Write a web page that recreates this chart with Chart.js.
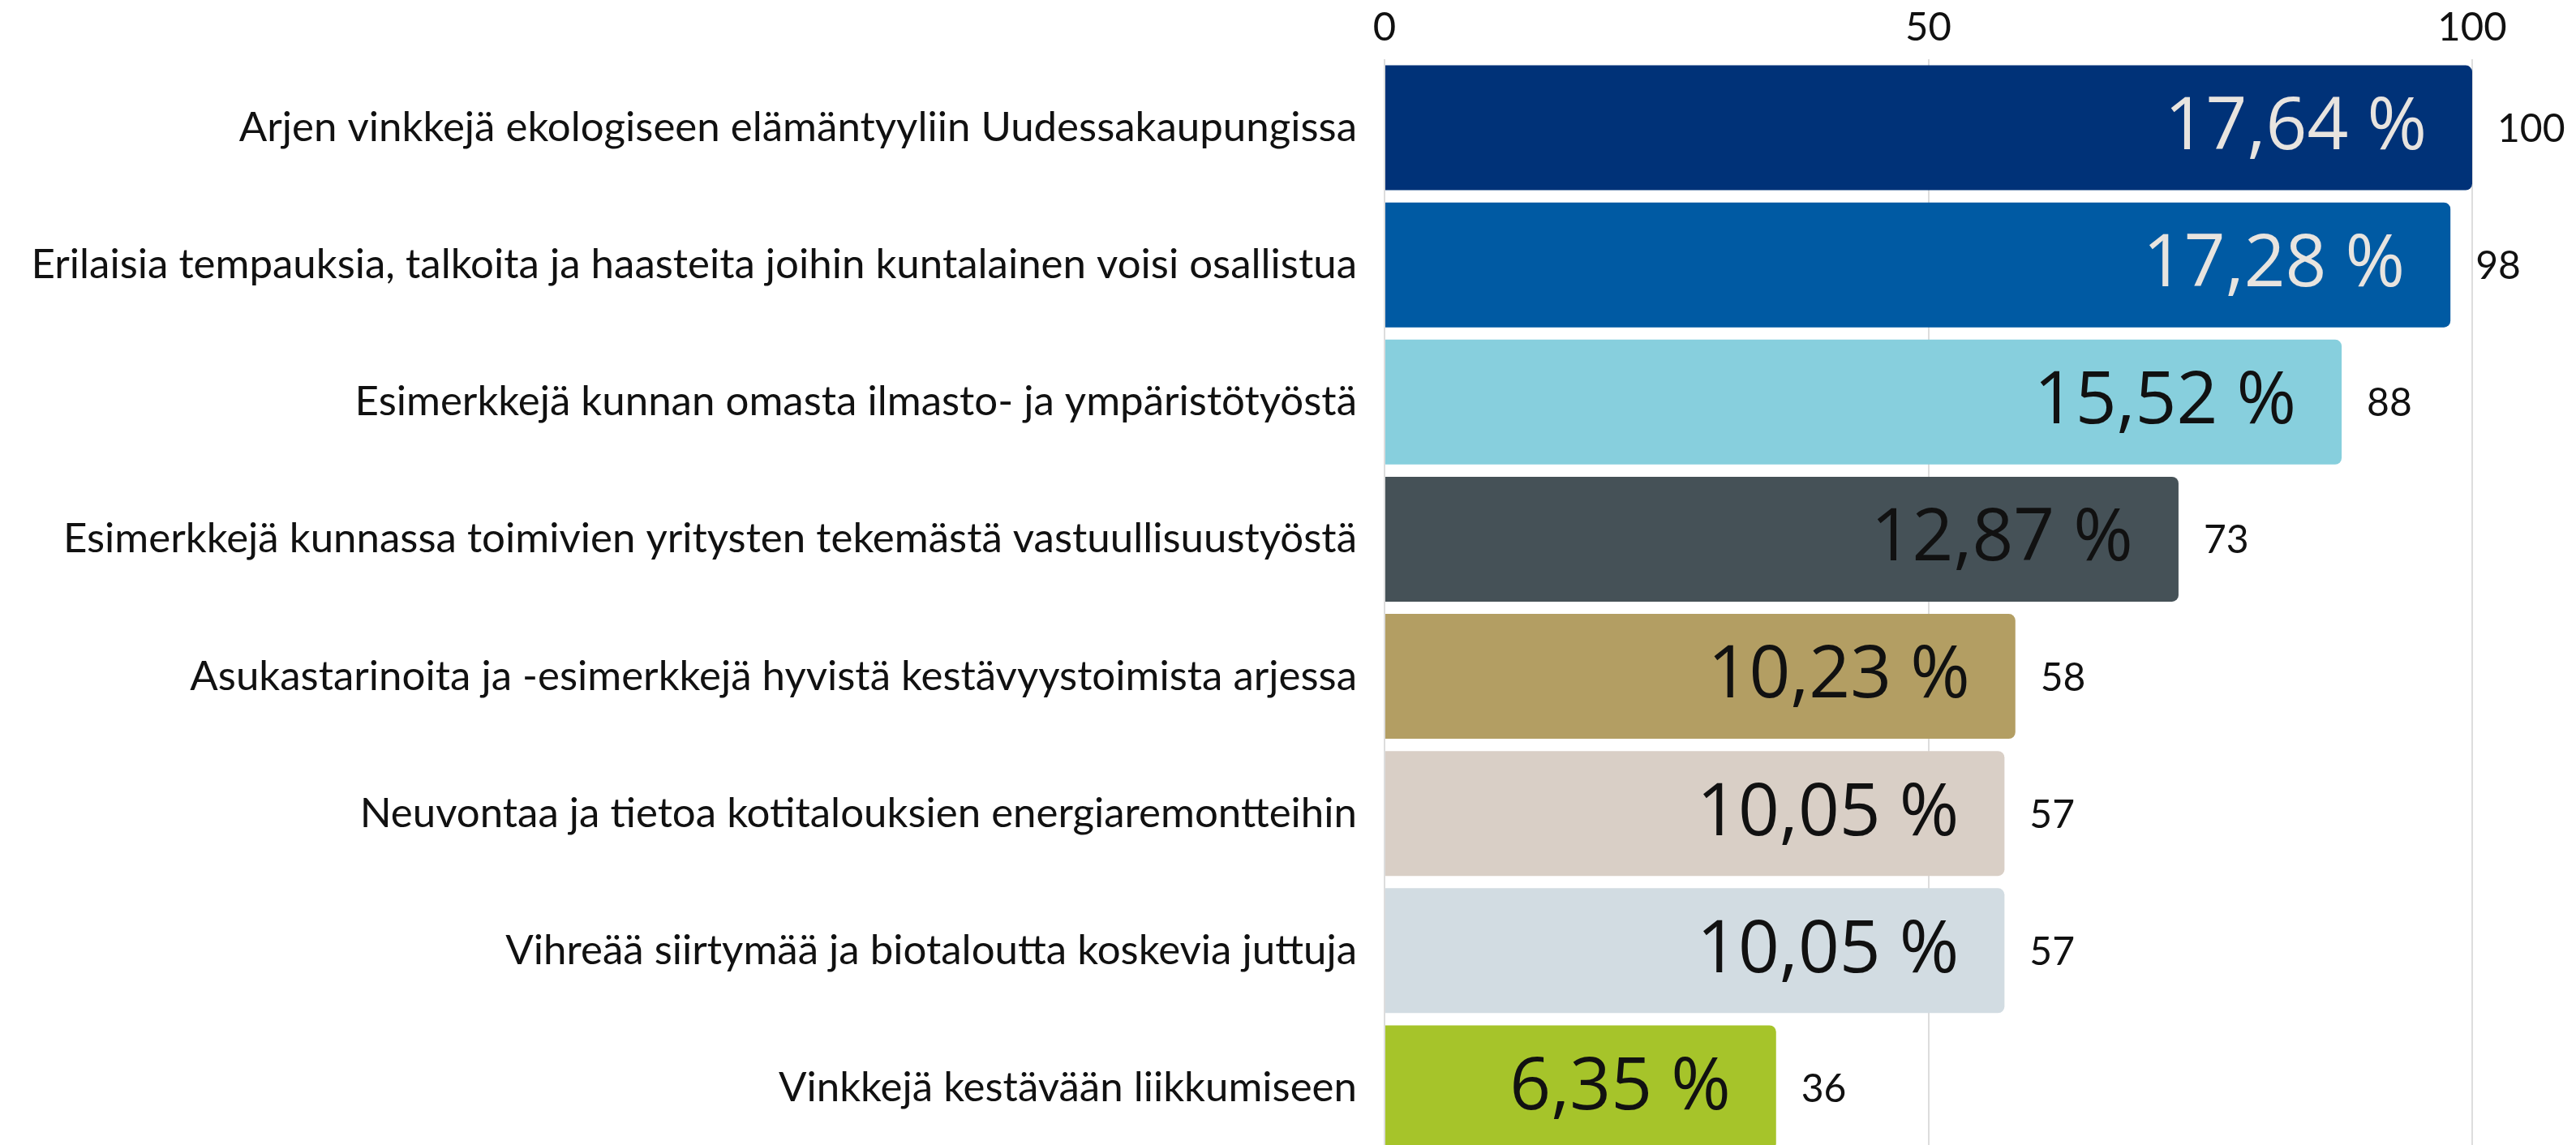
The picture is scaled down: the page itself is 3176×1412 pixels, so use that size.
<!DOCTYPE html>
<html><head><meta charset="utf-8">
<script src="https://cdn.jsdelivr.net/npm/chart.js@4/dist/chart.umd.min.js"></script>
<style>html,body{margin:0;padding:0;overflow:hidden;background:#fff}
canvas{display:block}</style></head>
<body><canvas id="c" width="3176" height="1426" style="width:3176px;height:1426px"></canvas>
<script>
const categories = [
  "Arjen vinkkejä ekologiseen elämäntyyliin Uudessakaupungissa",
  "Erilaisia tempauksia, talkoita ja haasteita joihin kuntalainen voisi osallistua",
  "Esimerkkejä kunnan omasta ilmasto- ja ympäristötyöstä",
  "Esimerkkejä kunnassa toimivien yritysten tekemästä vastuullisuustyöstä",
  "Asukastarinoita ja -esimerkkejä hyvistä kestävyystoimista arjessa",
  "Neuvontaa ja tietoa kotitalouksien energiaremontteihin",
  "Vihreää siirtymää ja biotaloutta koskevia juttuja",
  "Vinkkejä kestävään liikkumiseen"
];
const counts = [100, 98, 88, 73, 58, 57, 57, 36];
const percents = [17.64, 17.28, 15.52, 12.87, 10.23, 10.05, 10.05, 6.35];
const barColors = ["#003278", "#005aa3", "#87cfdd", "#455157", "#b39e63", "#d9cfc6", "#d2dce2", "#a6c42a"];
const percentTextColors = ["#e8e4df", "#e8e4df", "#111111", "#111111", "#111111", "#111111", "#111111", "#111111"];
const xTicks = [0, 50, 100];

const labelFont = "Lato";
const pctFont = "Open Sans";

const barLabels = {
  id: 'barLabels',
  afterDatasetsDraw(chart) {
    const ctx = chart.ctx;
    const meta = chart.getDatasetMeta(0);
    meta.data.forEach((bar, i) => {
      const pct = percents[i].toFixed(2).replace('.', ',') + ' %';
      ctx.save();
      ctx.textBaseline = 'middle';
      ctx.font = '400 89px "' + pctFont + '"';
      ctx.fillStyle = percentTextColors[i];
      ctx.textAlign = 'right';
      ctx.fillText(pct, bar.x - 56, bar.y + 1);
      ctx.restore();
      ctx.save();
      ctx.textBaseline = 'middle';
      ctx.font = '400 48px "' + labelFont + '"';
      ctx.fillStyle = '#111111';
      ctx.textAlign = 'left';
      ctx.fillText(String(counts[i]), bar.x + 31, bar.y + 2);
      ctx.restore();
    });
  }
};

new Chart(document.getElementById('c'), {
  type: 'bar',
  data: {
    labels: categories,
    datasets: [{
      data: counts,
      backgroundColor: barColors,
      borderWidth: 0,
      borderRadius: {topLeft: 0, bottomLeft: 0, topRight: 8, bottomRight: 8},
      borderSkipped: false,
      categoryPercentage: 0.91,
      barPercentage: 1.0
    }]
  },
  options: {
    indexAxis: 'y',
    responsive: false,
    maintainAspectRatio: false,
    animation: false,
    events: [],
    layout: {padding: {left: 0, right: 128, top: 0, bottom: 0}},
    plugins: {legend: {display: false}, tooltip: {enabled: false}},
    scales: {
      x: {
        position: 'top',
        min: 0, max: 100,
        afterBuildTicks: s => { s.ticks = xTicks.map(v => ({value: v})); },
        afterFit: s => { s.height = 73; s.paddingLeft = 0; s.paddingRight = 0; },
        ticks: {font: {family: labelFont, size: 49}, color: '#111111', padding: 9},
        grid: {color: '#dddddd', lineWidth: 2, drawTicks: false},
        border: {display: false}
      },
      y: {
        afterFit: s => { s.width = 1707; s.paddingTop = 0; s.paddingBottom = 0; },
        ticks: {font: {family: labelFont, size: 51}, color: '#111111', padding: 34},
        grid: {display: false, drawTicks: false},
        border: {display: false}
      }
    }
  },
  plugins: [barLabels]
});
</script></body></html>
